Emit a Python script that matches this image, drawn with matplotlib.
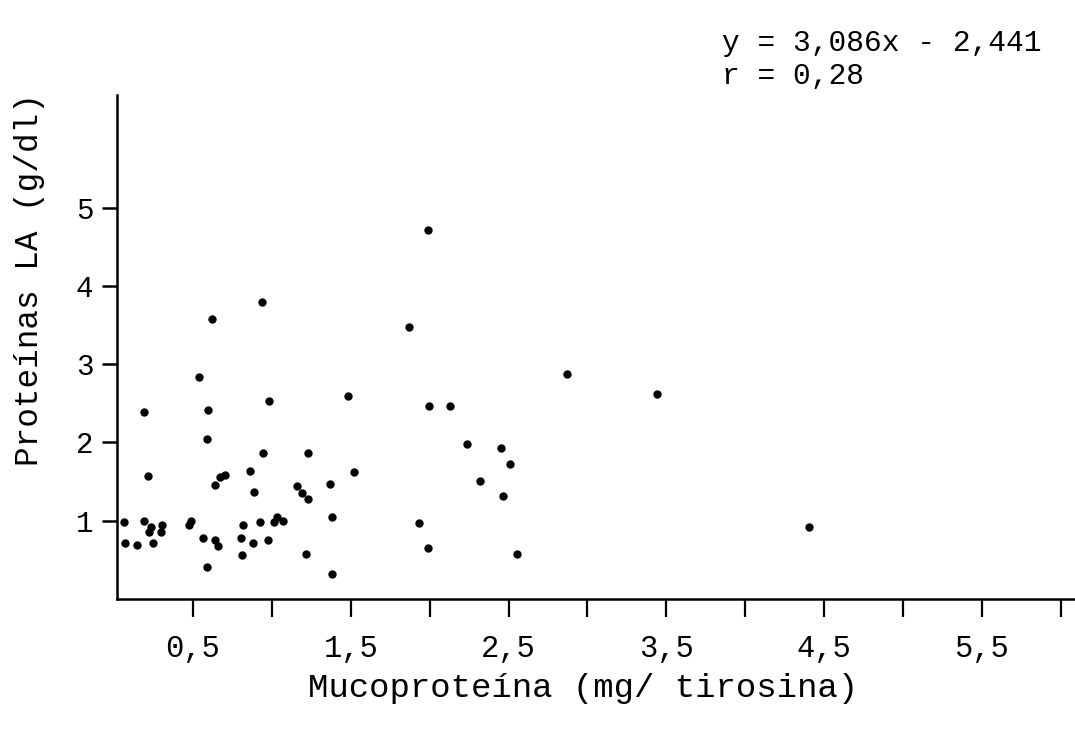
import matplotlib.pyplot as plt
import numpy as np

# valores (mucoproteina x proteinas LA)
muco = [0.537, 0.980, 0.190, 0.598, 0.589, 0.942, 0.217, 0.672, 0.703, 0.862,
        0.638, 0.885, 1.160, 1.189, 1.227, 0.063, 0.190, 0.234, 0.302, 0.220,
        0.296, 0.490, 0.477, 0.070, 0.144, 0.247, 0.564, 0.642, 0.657, 0.587,
        0.819, 0.805, 0.881, 0.809, 0.927, 0.976, 1.033, 1.012, 1.071, 1.481,
        1.996, 2.131, 2.873, 1.227, 1.519, 1.369, 1.380, 2.239, 2.452, 2.508,
        2.319, 2.465, 1.931, 1.992, 2.554, 1.215, 1.380, 1.990, 0.936, 0.623,
        1.869, 3.439, 4.404]
prot = [2.84, 2.53, 2.39, 2.41, 2.04, 1.87, 1.57, 1.56, 1.58, 1.63,
        1.46, 1.37, 1.45, 1.35, 1.28, 0.98, 1.00, 0.92, 0.94, 0.85,
        0.85, 1.00, 0.94, 0.72, 0.69, 0.71, 0.78, 0.75, 0.68, 0.41,
        0.94, 0.78, 0.71, 0.56, 0.98, 0.75, 1.05, 0.98, 1.00, 2.59,
        2.46, 2.46, 2.88, 1.86, 1.62, 1.47, 1.05, 1.98, 1.93, 1.72,
        1.51, 1.31, 0.97, 0.65, 0.58, 0.57, 0.32, 4.72, 3.80, 3.58,
        3.48, 2.62, 0.92]

xticks = [0.5, 1.0, 1.5, 2.0, 2.5, 3.0, 3.5, 4.0, 4.5, 5.0, 5.5, 6.0]
xticklabels = ['0,5', '', '1,5', '', '2,5', '', '3,5', '', '4,5', '', '5,5', '']
yticks = [1, 2, 3, 4, 5]

plt.rcParams['font.family'] = ['Liberation Mono', 'DejaVu Sans Mono']

W, H = 1075, 734
fig = plt.figure(figsize=(W / 100, H / 100), dpi=100)
ax = fig.add_axes([117 / W, 1 - 599 / H, (W - 117) / W, (599 - 95) / H])

ax.plot(muco, prot, 'o', color='black', markersize=5, linestyle='none')

ax.set_xlim(0.019, 6.09)
ax.set_ylim(0, 6.44)
ax.set_xticks(xticks)
ax.set_xticklabels(xticklabels)
ax.set_yticks(yticks)
ax.tick_params(axis='x', direction='out', length=13, width=1.6, pad=12, labelsize=22)
ax.tick_params(axis='y', direction='out', length=11, width=1.8, pad=6, labelsize=21)

for s in ['top', 'right']:
    ax.spines[s].set_visible(False)
for s in ['left', 'bottom']:
    ax.spines[s].set_linewidth(1.8)

fig.text(583 / W, 1 - 688 / H, 'Mucoproteína (mg/ tirosina)', ha='center', va='center', fontsize=24.5)
fig.text(30 / W, 1 - 280 / H, 'Proteínas LA (g/dl)', ha='center', va='center', rotation=90, fontsize=23.5)
fig.text(722 / W, 1 - 43 / H, 'y = 3,086x - 2,441', ha='left', va='center', fontsize=21.3)
fig.text(722 / W, 1 - 76 / H, 'r = 0,28', ha='left', va='center', fontsize=21.3)

fig.savefig('out.png', dpi=100)
